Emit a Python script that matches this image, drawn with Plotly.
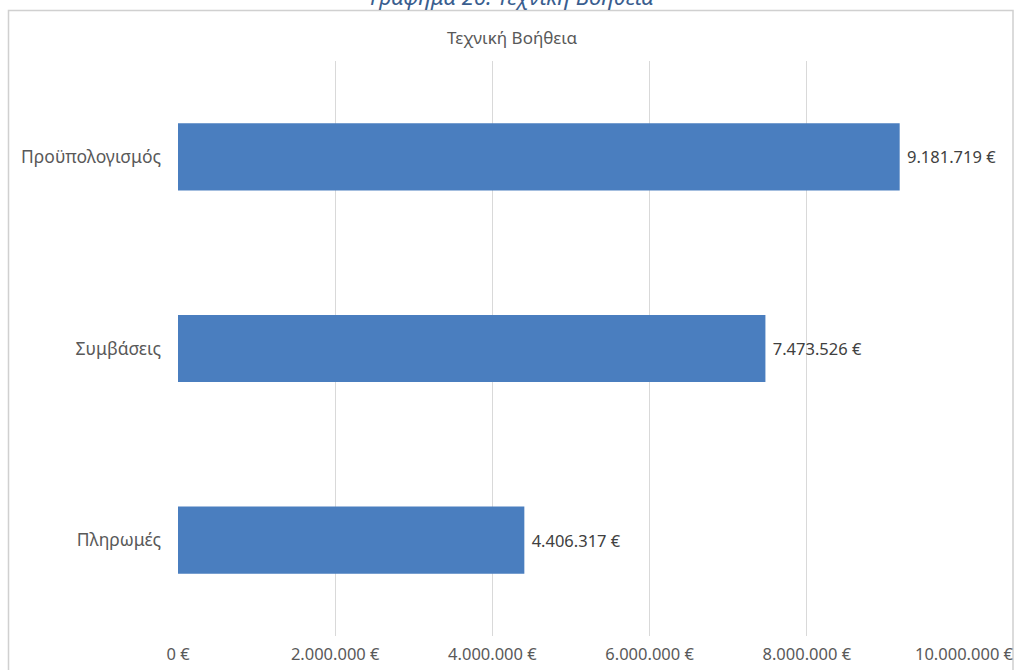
import plotly.graph_objects as go

categories = ["Προϋπολογισμός", "Συμβάσεις", "Πληρωμές"]
values = [9181719, 7473526, 4406317]
tick_values = [0, 2000000, 4000000, 6000000, 8000000, 10000000]

chart_title = "Τεχνική Βοήθεια"
page_heading = "Γράφημα 26: Τεχνική Βοήθεια"


def euro(v):
    return f"{v:,.0f}".replace(",", ".") + " €"


tick_text = [euro(v) for v in tick_values]

W, H = 1014, 670
L, R, T, B = 178, 50, 61, 34
pw, ph = W - L - R, H - T - B


def px_to_paper_x(px):
    return (px - L) / pw


def px_to_paper_y(py):
    return (H - B - py) / ph


font_family = "Noto Sans, Open Sans, DejaVu Sans, sans-serif"

fig = go.Figure(
    go.Bar(
        x=values,
        y=categories,
        orientation="h",
        width=0.35,
        marker=dict(color="#4A7EBF", line=dict(width=0)),
        texttemplate="\u00a0%{x:,.0f} €",
        textposition="outside",
        textfont=dict(color="#404040", size=16.5, family=font_family),
        cliponaxis=False,
        hoverinfo="skip",
    )
)

fig.update_layout(
    width=W,
    height=H,
    margin=dict(l=L, r=R, t=T, b=B, autoexpand=False),
    paper_bgcolor="white",
    plot_bgcolor="white",
    separators=",.",
    showlegend=False,
    font=dict(family=font_family, color="#595959", size=16),
    xaxis=dict(
        range=[0, 10000000],
        tickvals=tick_values,
        ticktext=tick_text,
        showgrid=True,
        gridcolor="#D9D9D9",
        gridwidth=1,
        zeroline=False,
        showline=False,
        ticks="",
        tickfont=dict(size=16.5, color="#595959"),
        ticklabelstandoff=6,
        automargin=False,
        fixedrange=True,
    ),
    yaxis=dict(
        autorange="reversed",
        showgrid=False,
        zeroline=False,
        showline=False,
        ticks="",
        tickfont=dict(size=17.5, color="#595959"),
        ticklabelstandoff=16,
        automargin=False,
        fixedrange=True,
    ),
    shapes=[
        dict(
            type="rect",
            xref="paper",
            yref="paper",
            x0=px_to_paper_x(8.5),
            x1=px_to_paper_x(1013),
            y0=px_to_paper_y(690),
            y1=px_to_paper_y(10.5),
            line=dict(color="#D0D0D0", width=1.5),
            fillcolor="rgba(0,0,0,0)",
            layer="below",
        )
    ],
    annotations=[
        dict(
            text=chart_title,
            xref="paper",
            yref="paper",
            x=px_to_paper_x(512),
            y=px_to_paper_y(38),
            xanchor="center",
            yanchor="middle",
            showarrow=False,
            font=dict(size=17, color="#595959", family=font_family),
        ),
        dict(
            text="<i>" + page_heading + "</i>",
            xref="paper",
            yref="paper",
            x=px_to_paper_x(512),
            y=px_to_paper_y(13),
            xanchor="center",
            yanchor="bottom",
            showarrow=False,
            font=dict(size=22, color="#3A5E8F", family=font_family),
        ),
    ],
)

fig.write_html(
    "out.html",
    config={"displayModeBar": False},
    post_script="document.documentElement.style.margin='0';document.body.style.margin='0';document.body.style.overflow='hidden';",
)
